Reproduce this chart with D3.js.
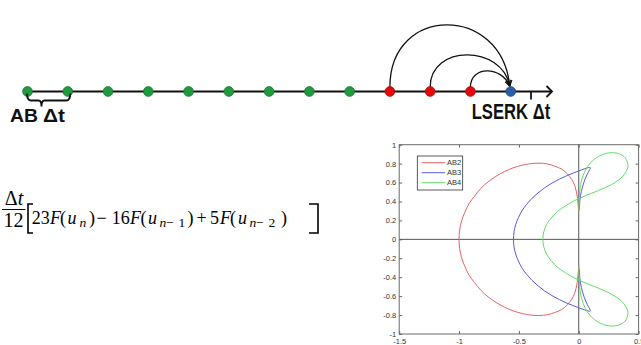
<!DOCTYPE html>
<html><head><meta charset="utf-8">
<script src="https://cdn.jsdelivr.net/npm/d3@7"></script>
<style>body{margin:0;background:#fff}svg{display:block}</style>
</head><body>
<svg id="c" width="641" height="345"></svg>
<script>
// ---------- data ----------
const timeSteps = [0,1,2,3,4,5,6,7,8,9,10,11,12];
const stepKind  = ["ab","ab","ab","ab","ab","ab","ab","ab","ab","stage","stage","stage","now"];
const arcLinks  = [[9,12],[10,12],[11,12]];

const xTicks = [-1.5,-1,-0.5,0,0.5];
const yTicks = [-1,-0.8,-0.6,-0.4,-0.2,0,0.2,0.4,0.6,0.8,1];
const seriesNames = ["AB2","AB3","AB4"];

const ab2 = [[0.000,0.29],[-0.007,0.39],[-0.015,0.47],[-0.034,0.57],[-0.060,0.635],[-0.094,0.69],[-0.143,0.742],[-0.200,0.773],[-0.260,0.796],[-0.330,0.805],[-0.400,0.800],[-0.475,0.783],[-0.549,0.755],[-0.622,0.716],[-0.692,0.666],[-0.758,0.607],[-0.818,0.538],[-0.870,0.458],[-0.917,0.377],[-0.951,0.288],[-0.979,0.194],[-0.995,0.098],[-1.000,0.000],
 [-0.995,-0.098],[-0.979,-0.194],[-0.951,-0.288],[-0.917,-0.377],[-0.870,-0.458],[-0.818,-0.538],[-0.758,-0.607],[-0.692,-0.666],[-0.622,-0.716],[-0.549,-0.755],[-0.475,-0.783],[-0.400,-0.800],[-0.330,-0.805],[-0.260,-0.796],[-0.200,-0.773],[-0.143,-0.742],[-0.094,-0.69],[-0.060,-0.635],[-0.034,-0.57],[-0.015,-0.47],[-0.007,-0.39],[0.000,-0.29]];

const ab3 = [[0.004,0.31],[0.010,0.414],[0.022,0.508],[0.047,0.617],[0.071,0.688],[0.086,0.723],[0.095,0.746],[0.097,0.757],[0.091,0.760],[0.069,0.754],[0.028,0.736],[-0.041,0.703],[-0.100,0.673],[-0.162,0.636],[-0.224,0.594],[-0.284,0.546],[-0.340,0.491],[-0.391,0.433],[-0.436,0.369],[-0.475,0.301],[-0.504,0.229],[-0.527,0.155],[-0.541,0.078],[-0.545,0.000],
 [-0.541,-0.078],[-0.527,-0.155],[-0.504,-0.229],[-0.475,-0.301],[-0.436,-0.369],[-0.391,-0.433],[-0.340,-0.491],[-0.284,-0.546],[-0.224,-0.594],[-0.162,-0.636],[-0.100,-0.673],[-0.041,-0.703],[0.028,-0.736],[0.069,-0.754],[0.091,-0.760],[0.097,-0.757],[0.095,-0.746],[0.086,-0.723],[0.071,-0.688],[0.047,-0.617],[0.022,-0.508],[0.010,-0.414],[0.004,-0.31]];

const ab4 = [[0.001,0.30],[0.002,0.36],[0.004,0.44],[0.010,0.533],[0.024,0.627],[0.052,0.721],[0.098,0.809],[0.166,0.877],[0.249,0.913],[0.330,0.907],[0.388,0.863],[0.411,0.770],[0.370,0.669],[0.272,0.578],[0.163,0.515],[0.060,0.463],[-0.032,0.411],[-0.108,0.356],[-0.178,0.294],[-0.230,0.226],[-0.269,0.155],[-0.292,0.078],[-0.300,0.000],
 [-0.292,-0.078],[-0.269,-0.155],[-0.230,-0.226],[-0.178,-0.294],[-0.108,-0.356],[-0.032,-0.411],[0.060,-0.463],[0.163,-0.515],[0.272,-0.578],[0.370,-0.669],[0.411,-0.770],[0.388,-0.863],[0.330,-0.907],[0.249,-0.913],[0.166,-0.877],[0.098,-0.809],[0.052,-0.721],[0.024,-0.627],[0.010,-0.533],[0.004,-0.44],[0.002,-0.36],[0.001,-0.30]];

// equation pieces: [text, italic, subscript]
const eqPieces = [["23",0,0],["F",1,0],["(",0,0],["u",1,0],["n",1,1],[")",0,0],["−",0,0],["16",0,0],["F",1,0],["(",0,0],["u",1,0],["n",1,1],["−",0,1],["1",0,1],[")",0,0],["+",0,0],["5",0,0],["F",1,0],["(",0,0],["u",1,0],["n",1,1],["−",0,1],["2",0,1],[")",0,0]];

// ---------- drawing ----------
const svg = d3.select("#c");
const sans = "'Liberation Sans', Arial, sans-serif";
const serif = "'Liberation Serif', 'Times New Roman', serif";

// timeline
const lineY = 91.5;
const t = d3.scaleLinear().domain([0,12]).range([27.5,510.7]);
const kindColor = {ab:"#1f9a3e", stage:"#e3090b", now:"#2b5ea6"};

const defs = svg.append("defs");
defs.append("marker").attr("id","ah").attr("viewBox","0 0 10 10")
  .attr("refX",9).attr("refY",5).attr("markerWidth",7).attr("markerHeight",7)
  .attr("markerUnits","userSpaceOnUse").attr("orient","auto")
  .append("path").attr("d","M1,1 L9,5 L1,9").attr("fill","none").attr("stroke","#111").attr("stroke-width",1.6);

svg.append("line").attr("x1",t(0)).attr("x2",552).attr("y1",lineY).attr("y2",lineY)
  .attr("stroke","#111").attr("stroke-width",1.8);
svg.append("path").attr("d",`M546.5,${lineY-5.5} L552,${lineY} L546.5,${lineY+5.5}`)
  .attr("fill","none").attr("stroke","#111").attr("stroke-width",1.8);
svg.append("line").attr("x1",531).attr("x2",531).attr("y1",lineY).attr("y2",lineY+8)
  .attr("stroke","#111").attr("stroke-width",1.8);

const arcH = [62,32,16];
svg.selectAll("path.arc").data(arcLinks).join("path").attr("class","arc")
  .attr("d",(d,i)=>{
    const x0=t(d[0]), x1=t(d[1])-1, y0=lineY-4.5, k=arcH[i]*4/3;
    return `M${x0},${y0} C${x0},${y0-k} ${x1-8},${y0-k} ${x1},${y0-1}`;
  })
  .attr("fill","none").attr("stroke","#111").attr("stroke-width",1.3).attr("marker-end","url(#ah)");

svg.selectAll("circle.step").data(timeSteps).join("circle").attr("class","step")
  .attr("cx",d=>t(d)).attr("cy",lineY).attr("r",4.9)
  .attr("fill",d=>kindColor[stepKind[d]]).attr("stroke",d=>d3.color(kindColor[stepKind[d]]).darker(0.8)).attr("stroke-width",0.7);

// brace under first interval
const b0=t(0)-0.5, b1=t(1)+2.5, bt=41.5;
svg.append("path").attr("d",`M${b0},93.5 Q${b0},100.5 ${b0+4},100.5 L${bt-3},100.5 Q${bt},100.5 ${bt},106.5 Q${bt},100.5 ${bt+3},100.5 L${b1-4},100.5 Q${b1},100.5 ${b1},93.5`)
  .attr("fill","none").attr("stroke","#111").attr("stroke-width",1.9);

svg.append("text").attr("x",10).attr("y",121.5).attr("font-family",sans).attr("font-weight","bold")
  .attr("font-size",18.5).attr("textLength",28).attr("lengthAdjust","spacingAndGlyphs").attr("fill","#111").text("AB");
svg.append("text").attr("x",43).attr("y",121.5).attr("font-family",sans).attr("font-weight","bold")
  .attr("font-size",18.5).attr("textLength",22).attr("lengthAdjust","spacingAndGlyphs").attr("fill","#111").text("Δt");
svg.append("text").attr("x",471.7).attr("y",119.3).attr("font-family",sans).attr("font-weight","bold")
  .attr("font-size",21.5).attr("textLength",78.5).attr("lengthAdjust","spacingAndGlyphs").attr("fill","#111").text("LSERK Δt");

// equation
const eq = svg.append("g").attr("font-family",serif).attr("fill","#000");
eq.append("text").attr("x",14).attr("y",205).attr("text-anchor","middle").attr("font-size",20)
  .html('Δ<tspan font-style="italic">t</tspan>');
eq.append("line").attr("x1",2).attr("x2",25.5).attr("y1",209.5).attr("y2",209.5).attr("stroke","#000").attr("stroke-width",1);
eq.append("text").attr("x",13.5).attr("y",227).attr("text-anchor","middle").attr("font-size",20).text("12");
eq.append("path").attr("d","M33,204 L28,204 L28,233 L33,233").attr("fill","none").attr("stroke","#000").attr("stroke-width",1.6);
eq.append("path").attr("d","M309,204 L318,204 L318,233 L309,233").attr("fill","none").attr("stroke","#000").attr("stroke-width",1.6);
const eqX = [31.7,50,60,67.5,79.5,89,96.5,111.7,130,140.5,148,159.5,166,178.5,187.5,196.5,210,220,230,238,249.5,256,268.5,281];
eq.selectAll("text.pc").data(eqPieces).join("text").attr("class","pc")
  .attr("x",(d,i)=>eqX[i]).attr("y",d=>d[2]?227:223.5)
  .attr("font-size",d=>d[2]?13.5:18).attr("font-style",d=>d[1]?"italic":"normal")
  .text(d=>d[0]);

// stability plot
const L=399.2, R=638.6, T=144.7, B=334;
const x = d3.scaleLinear().domain([-1.5,0.5]).range([L,R]);
const y = d3.scaleLinear().domain([-1,1]).range([B,T]);
const p = svg.append("g");
p.append("rect").attr("x",L).attr("y",T).attr("width",R-L).attr("height",B-T).attr("fill","#fff");

const tickStyle = g=>{ g.select(".domain").remove();
  g.selectAll(".tick line").attr("stroke","#666");
  g.selectAll(".tick text").attr("font-family",sans).attr("font-size",7.5).attr("fill","#333"); };
p.append("g").attr("transform",`translate(0,${B})`)
  .call(d3.axisBottom(x).tickValues(xTicks).tickSize(-3).tickPadding(5).tickFormat(d=>String(d))).call(tickStyle);
p.append("g").attr("transform",`translate(0,${T})`)
  .call(d3.axisTop(x).tickValues(xTicks).tickSize(-3).tickFormat("")).call(tickStyle);
p.append("g").attr("transform",`translate(${L},0)`)
  .call(d3.axisLeft(y).tickValues(yTicks).tickSize(-3).tickPadding(3).tickFormat(d=>String(d))).call(tickStyle);
p.append("g").attr("transform",`translate(${R},0)`)
  .call(d3.axisRight(y).tickValues(yTicks).tickSize(-3).tickFormat("")).call(tickStyle);

p.append("line").attr("x1",x(0)).attr("x2",x(0)).attr("y1",T).attr("y2",B).attr("stroke","#555").attr("stroke-width",1);
p.append("line").attr("x1",L).attr("x2",R).attr("y1",y(0)).attr("y2",y(0)).attr("stroke","#555").attr("stroke-width",1);

const colors = ["#e46464","#5a5ae0","#64dc64"];
const line = d3.line().x(d=>x(d[0])).y(d=>y(d[1])).curve(d3.curveCatmullRom.alpha(0.5));
[ab2,ab3,ab4].forEach((s,i)=>{
  p.append("path").attr("d",line(s)).attr("fill","none").attr("stroke",colors[i]).attr("stroke-width",1);
});

p.append("rect").attr("x",L).attr("y",T).attr("width",R-L).attr("height",B-T)
  .attr("fill","none").attr("stroke","#6a6a6a").attr("stroke-width",1);

// legend
const lg = p.append("g");
lg.append("rect").attr("x",417.3).attr("y",156).attr("width",45.4).attr("height",34)
  .attr("fill","#fff").attr("stroke","#333").attr("stroke-width",0.8);
seriesNames.forEach((n,i)=>{
  const yy = 162.7 + i*10;
  lg.append("line").attr("x1",421.7).attr("x2",445).attr("y1",yy).attr("y2",yy).attr("stroke",colors[i]).attr("stroke-width",1);
  lg.append("text").attr("x",447).attr("y",yy).attr("dy","0.35em").attr("font-family",sans).attr("font-size",7.5).attr("fill","#333").text(n);
});
</script>
</body></html>
